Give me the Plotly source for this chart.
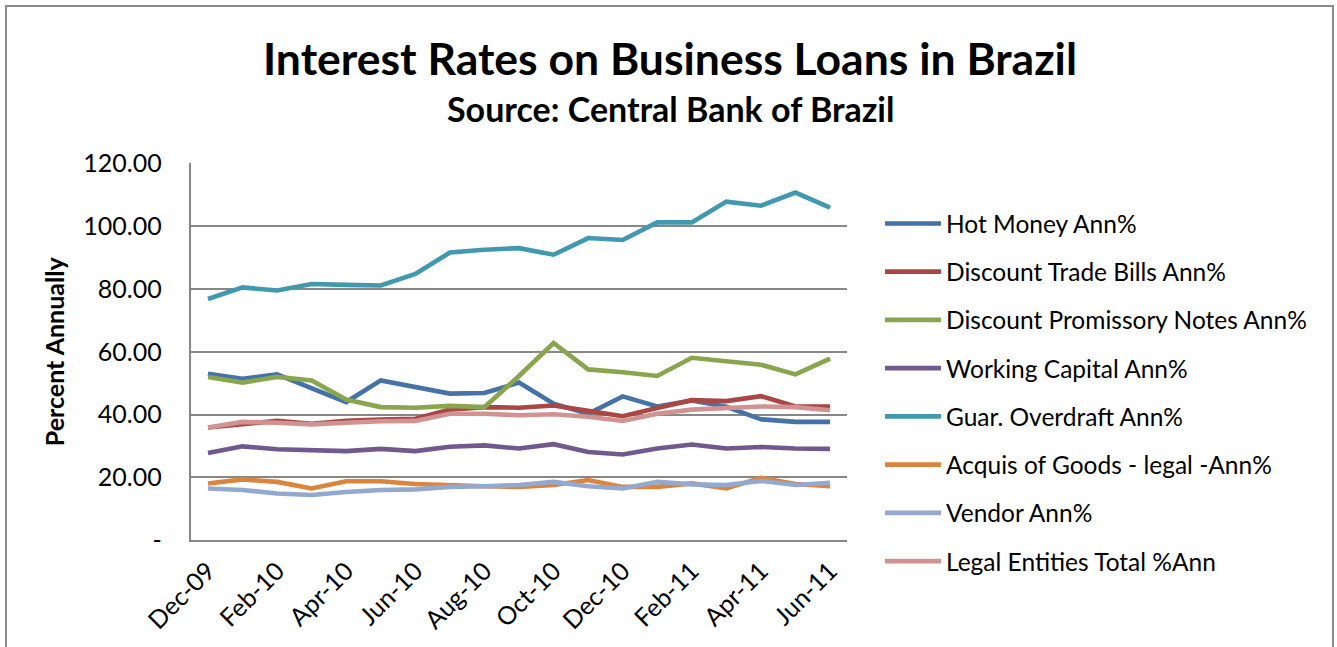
import plotly.graph_objects as go

W, H = 1337, 647

months = ["Dec-09", "Jan-10", "Feb-10", "Mar-10", "Apr-10", "May-10", "Jun-10",
          "Jul-10", "Aug-10", "Sep-10", "Oct-10", "Nov-10", "Dec-10", "Jan-11",
          "Feb-11", "Mar-11", "Apr-11", "May-11", "Jun-11"]

hot_money = [53.0, 51.4, 52.8, 48.3, 44.0, 50.9, 48.8, 46.7, 46.9, 50.2, 43.5,
             40.3, 45.8, 42.6, 44.5, 42.5, 38.5, 37.7, 37.7]
trade_bills = [35.9, 36.9, 38.0, 37.1, 38.0, 38.4, 38.7, 41.6, 42.4, 42.2, 42.9,
               41.2, 39.5, 42.1, 44.6, 44.3, 45.9, 42.6, 42.6]
promissory = [52.0, 50.2, 52.0, 50.9, 44.8, 42.4, 42.2, 42.8, 42.4, 52.3, 62.8,
              54.4, 53.5, 52.3, 58.1, 57.0, 55.9, 52.8, 57.8]
working_capital = [27.8, 29.9, 29.0, 28.8, 28.4, 29.1, 28.4, 29.8, 30.2, 29.2,
                   30.6, 28.1, 27.3, 29.2, 30.5, 29.2, 29.7, 29.2, 29.1]
overdraft = [76.8, 80.5, 79.5, 81.6, 81.3, 81.1, 84.8, 91.6, 92.5, 93.0, 90.9,
             96.2, 95.6, 101.2, 101.2, 107.8, 106.5, 110.7, 105.9]
acquis_goods = [18.1, 19.4, 18.6, 16.5, 18.8, 18.8, 17.9, 17.4, 17.2, 17.0, 17.6,
                19.2, 17.0, 17.0, 18.1, 16.5, 19.9, 17.9, 17.2]
vendor = [16.5, 16.0, 14.9, 14.4, 15.4, 16.0, 16.2, 17.0, 17.2, 17.6, 18.6,
          17.2, 16.5, 18.6, 17.8, 17.6, 18.9, 17.6, 18.3]
legal_total = [35.9, 37.7, 37.4, 36.9, 37.4, 37.9, 38.0, 40.3, 40.3, 39.8, 40.1,
               39.3, 38.0, 40.3, 41.6, 42.1, 42.6, 42.4, 41.4]

series_names = ["Hot Money Ann%", "Discount Trade Bills Ann%",
                "Discount Promissory Notes Ann%", "Working Capital Ann%",
                "Guar. Overdraft Ann%", "Acquis of Goods - legal -Ann%",
                "Vendor Ann%", "Legal Entities Total %Ann"]
series_values = [hot_money, trade_bills, promissory, working_capital,
                 overdraft, acquis_goods, vendor, legal_total]
series_colors = ["#4572A7", "#AA4643", "#89A54E", "#71588F",
                 "#4198AF", "#DB843D", "#93A9CF", "#D19392"]

y_ticks = [0, 20, 40, 60, 80, 100, 120]
y_ticktext = ["-", "20.00", "40.00", "60.00", "80.00", "100.00", "120.00"]
x_ticks = months[::2]

FONT = "Lato, 'Open Sans', sans-serif"
GRID = "#878787"

fig = go.Figure()
for name, vals, col in zip(series_names, series_values, series_colors):
    fig.add_trace(go.Scatter(
        x=months, y=vals, name=name, mode="lines",
        line=dict(color=col, width=4.6),
        legendgroup=name,
    ))

# plot area in pixels
px_l, px_r, px_t, px_b = 190.7, 847.3, 163.3, 540.3

fig.update_layout(
    width=W, height=H,
    margin=dict(l=0, r=0, t=0, b=0, autoexpand=False),
    paper_bgcolor="white", plot_bgcolor="white",
    font=dict(family=FONT, color="black"),
    showlegend=True,
    legend=dict(
        x=880 / W, y=1 - 201 / H, xanchor="left", yanchor="top",
        font=dict(size=24.5, family=FONT, color="black"),
        tracegroupgap=13.4, traceorder="grouped",
        itemwidth=56,
        bgcolor="rgba(0,0,0,0)",
    ),
    xaxis=dict(
        domain=[px_l / W, px_r / W], automargin=False,
        type="category", categoryorder="array", categoryarray=months,
        range=[-0.5, len(months) - 0.5],
        tickmode="array", tickvals=x_ticks, ticktext=x_ticks,
        tickangle=-45, tickfont=dict(size=25, family=FONT, color="black"),
        ticks="", ticklabelstandoff=4,
        showgrid=False, zeroline=False,
        showline=True, linecolor=GRID, linewidth=2,
    ),
    yaxis=dict(
        domain=[1 - px_b / H, 1 - px_t / H], automargin=False,
        range=[0, 120],
        tickmode="array", tickvals=y_ticks, ticktext=y_ticktext,
        tickfont=dict(size=25, family=FONT, color="black"),
        ticks="", ticklabelstandoff=22,
        showgrid=True, gridcolor=GRID, gridwidth=1.6,
        zeroline=False,
        showline=True, linecolor=GRID, linewidth=2,
        title=dict(text="<b>Percent Annually</b>",
                   font=dict(size=25, family=FONT, color="black"),
                   standoff=12),
    ),
)

fig.add_annotation(
    text="<b>Interest Rates on Business Loans in Brazil</b>",
    xref="paper", yref="paper", x=670 / W, y=1 - 57 / H,
    xanchor="center", yanchor="middle", showarrow=False,
    font=dict(size=44.5, family=FONT, color="black"),
)
fig.add_annotation(
    text="<b>Source: Central Bank of Brazil</b>",
    xref="paper", yref="paper", x=670 / W, y=1 - 108 / H,
    xanchor="center", yanchor="middle", showarrow=False,
    font=dict(size=34, family=FONT, color="black"),
)

# chart frame
fig.add_shape(
    type="rect", xref="paper", yref="paper",
    x0=6 / W, x1=1333 / W, y0=-0.2, y1=1 - 6 / H,
    line=dict(color="#8C8C8C", width=2), layer="below",
)

fig.write_html("out.html")
